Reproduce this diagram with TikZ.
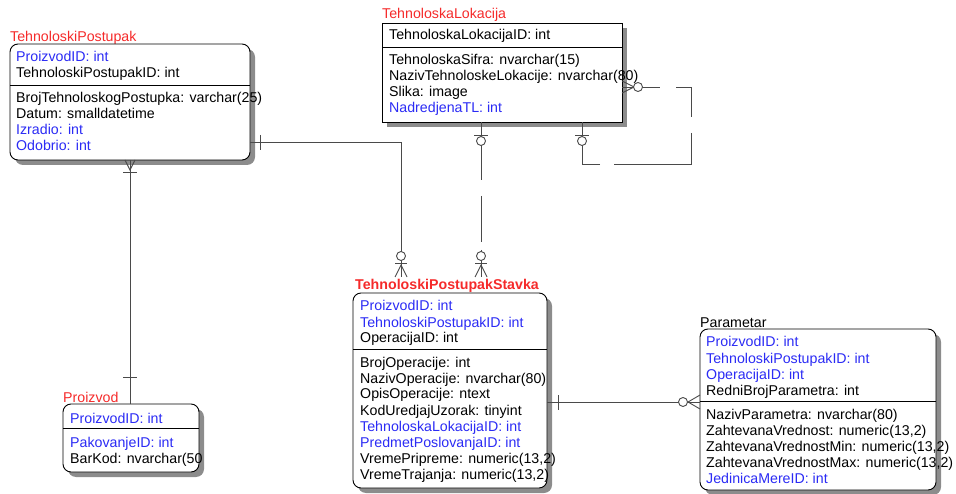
\documentclass[tikz,border=0pt]{standalone}
\usepackage{fontspec}
\setmainfont{Liberation Sans}
\usepackage{xcolor}
\usetikzlibrary{calc,shadows}
\definecolor{erblue}{HTML}{2B2BF5}
\definecolor{erred}{HTML}{F52A2A}
\definecolor{relgray}{HTML}{4A4A4A}

\begin{document}
\begin{tikzpicture}[x=1pt, y=-1pt,
  entity/.style={draw=black, line width=0.9pt, fill=white, inner sep=0pt, outer sep=0pt, anchor=north west,
    drop shadow={shadow xshift=5pt, shadow yshift=-5pt, opacity=1, fill=black!45}},
  soft/.style={rounded corners=8pt},
  attr/.style={anchor=base west, inner sep=0pt, font=\fontsize{14.2}{16}\selectfont},
  title/.style={attr, text=erred},
  rel/.style={draw=relgray, line width=0.9pt},
  nonid/.style={rel, dash pattern=on 58pt off 16pt on 46pt off 8pt on 40pt}]
  \useasboundingbox (0,0) rectangle (956,494);

  % TehnoloskiPostupak
  \node[title] (tpName) at (10,42) {TehnoloskiPostupak};
  \node[entity, soft, minimum width=240pt, minimum height=116pt] (tp) at (10,44) {};
  \draw ($(tp.north west)+(0,41)$) -- ($(tp.north east)+(0,41)$);
  \foreach \txt/\col [count=\k from 0] in {ProizvodID: int/erblue, TehnoloskiPostupakID: int/black}
    \node[attr, text=\col] (tpKey\k) at ($(tp.north west)+(6,{18+16*\k})$) {\txt};
  \foreach \txt/\col [count=\k from 0] in {{BrojTehnoloskogPostupka: varchar(25)}/black,
      Datum: smalldatetime/black, Izradio: int/erblue, Odobrio: int/erblue}
    \node[attr, text=\col] (tpAttr\k) at ($(tp.north west)+(6,{59+16*\k})$) {\txt};

  % TehnoloskaLokacija
  \node[title] (tlName) at (382,19) {TehnoloskaLokacija};
  \node[entity, minimum width=240pt, minimum height=99pt] (tl) at (382,23) {};
  \draw ($(tl.north west)+(0,24)$) -- ($(tl.north east)+(0,24)$);
  \node[attr] (tlKey0) at ($(tl.north west)+(7,17)$) {TehnoloskaLokacijaID: int};
  \foreach \txt/\col [count=\k from 0] in {{TehnoloskaSifra: nvarchar(15)}/black,
      {NazivTehnoloskeLokacije: nvarchar(80)}/black, Slika: image/black, NadredjenaTL: int/erblue}
    \node[attr, text=\col] (tlAttr\k) at ($(tl.north west)+(7,{42+16*\k})$) {\txt};

  % TehnoloskiPostupakStavka
  \node[title, font=\fontsize{14.2}{16}\selectfont\bfseries] (tpsName) at (355,290) {TehnoloskiPostupakStavka};
  \node[entity, soft, minimum width=194pt, minimum height=195pt] (tps) at (353,293) {};
  \draw ($(tps.north west)+(0,56)$) -- ($(tps.north east)+(0,56)$);
  \foreach \txt/\col [count=\k from 0] in {ProizvodID: int/erblue, TehnoloskiPostupakID: int/erblue,
      OperacijaID: int/black}
    \node[attr, text=\col] (tpsKey\k) at ($(tps.north west)+(7,{18+16*\k})$) {\txt};
  \foreach \txt/\col [count=\k from 0] in {BrojOperacije: int/black, {NazivOperacije: nvarchar(80)}/black,
      OpisOperacije: ntext/black, KodUredjajUzorak: tinyint/black, TehnoloskaLokacijaID: int/erblue,
      PredmetPoslovanjaID: int/erblue, {VremePripreme: numeric(13,2)}/black,
      {VremeTrajanja: numeric(13,2)}/black}
    \node[attr, text=\col] (tpsAttr\k) at ($(tps.north west)+(7,{74+16*\k})$) {\txt};

  % Parametar
  \node[attr] (parName) at (700,327) {Parametar};
  \node[entity, soft, minimum width=236pt, minimum height=161pt] (par) at (700,329) {};
  \draw ($(par.north west)+(0,72)$) -- ($(par.north east)+(0,72)$);
  \foreach \txt/\col [count=\k from 0] in {ProizvodID: int/erblue, TehnoloskiPostupakID: int/erblue,
      OperacijaID: int/erblue, RedniBrojParametra: int/black}
    \node[attr, text=\col] (parKey\k) at ($(par.north west)+(6,{18+16*\k})$) {\txt};
  \foreach \txt/\col [count=\k from 0] in {{NazivParametra: nvarchar(80)}/black,
      {ZahtevanaVrednost: numeric(13,2)}/black, {ZahtevanaVrednostMin: numeric(13,2)}/black,
      {ZahtevanaVrednostMax: numeric(13,2)}/black, JedinicaMereID: int/erblue}
    \node[attr, text=\col] (parAttr\k) at ($(par.north west)+(6,{90+16*\k})$) {\txt};

  % Proizvod
  \node[title] (proName) at (63,402) {Proizvod};
  \node[entity, soft, minimum width=136pt, minimum height=68pt] (pro) at (63,404) {};
  \draw ($(pro.north west)+(0,24)$) -- ($(pro.north east)+(0,24)$);
  \node[attr, text=erblue] (proKey0) at ($(pro.north west)+(7,19)$) {ProizvodID: int};
  \foreach \txt/\col [count=\k from 0] in {PakovanjeID: int/erblue, {BarKod: nvarchar(50}/black}
    \node[attr, text=\col] (proAttr\k) at ($(pro.north west)+(7,{43+16*\k})$) {\txt};

  % Proizvod -- TehnoloskiPostupak
  \coordinate (proIn) at (tp.south |- pro.north);
  \draw[rel] (tp.south) -- (proIn);
  \draw[rel] ($(tp.south)+(-5,0)$) -- ($(tp.south)+(0,10)$) -- ($(tp.south)+(5,0)$);
  \draw[rel] ($(tp.south)+(-7,12)$) -- ++(14,0);
  \draw[rel] ($(proIn)+(-7,-27)$) -- ++(14,0);

  % TehnoloskiPostupak -- TehnoloskiPostupakStavka
  \coordinate (tpOut) at ($(tp.north east)+(0,98)$);
  \coordinate (tpsIn) at ($(tps.north west)+(48,-16)$);
  \draw[rel] (tpOut) -| (tpsIn);
  \draw[rel] ($(tpOut)+(10,-7)$) -- ++(0,15);
  \draw[rel, fill=white] ($(tpsIn)+(0,-21)$) circle (4.5pt);
  \draw[rel] ($(tpsIn)+(-6,-14)$) -- ++(12,0);
  \draw[rel] ($(tpsIn)+(-6,0)$) -- ($(tpsIn)+(0,-12)$) -- ($(tpsIn)+(6,0)$);

  % TehnoloskaLokacija -- TehnoloskiPostupakStavka
  \coordinate (tlOut) at ($(tl.south west)+(99,0)$);
  \coordinate (tpsIn2) at ($(tps.north west)+(128,-16)$);
  \draw[nonid] (tlOut) -- (tpsIn2);
  \draw[rel] ($(tlOut)+(-7,13)$) -- ++(14,0);
  \draw[rel, fill=white] ($(tlOut)+(0,19)$) circle (4.5pt);
  \draw[rel, fill=white] ($(tpsIn2)+(0,-21)$) circle (4.5pt);
  \draw[rel] ($(tpsIn2)+(-6,-14)$) -- ++(12,0);
  \draw[rel] ($(tpsIn2)+(-6,0)$) -- ($(tpsIn2)+(0,-12)$) -- ($(tpsIn2)+(6,0)$);

  % TehnoloskaLokacija -- TehnoloskaLokacija (NadredjenaTL)
  \coordinate (tlSelfIn) at ($(tl.north east)+(0,64)$);
  \coordinate (tlSelfOut) at ($(tl.south west)+(200,0)$);
  \draw[rel, dash pattern=on 38pt off 16pt on 45pt off 16pt on 108pt off 14pt on 60pt]
    (tlSelfIn) -- ++(69,0) |- ($(tlSelfOut)+(0,42)$) -- (tlSelfOut);
  \draw[rel] ($(tlSelfIn)+(0,-6)$) -- ($(tlSelfIn)+(12,0)$) -- ($(tlSelfIn)+(0,6)$);
  \draw[rel, fill=white] ($(tlSelfIn)+(16,0)$) circle (4.5pt);
  \draw[rel] ($(tlSelfOut)+(-7,13)$) -- ++(14,0);
  \draw[rel, fill=white] ($(tlSelfOut)+(0,19)$) circle (4.5pt);

  % TehnoloskiPostupakStavka -- Parametar
  \coordinate (tpsOut) at ($(tps.north east)+(0,109)$);
  \coordinate (parIn) at (tpsOut -| par.west);
  \draw[rel] (tpsOut) -- (parIn);
  \draw[rel] ($(tpsOut)+(11,-7)$) -- ++(0,15);
  \draw[rel] ($(parIn)+(0,-7)$) -- ($(parIn)+(-12,0)$) -- ($(parIn)+(0,7)$);
  \draw[rel, fill=white] ($(parIn)+(-17,0)$) circle (4.5pt);
\end{tikzpicture}
\end{document}
